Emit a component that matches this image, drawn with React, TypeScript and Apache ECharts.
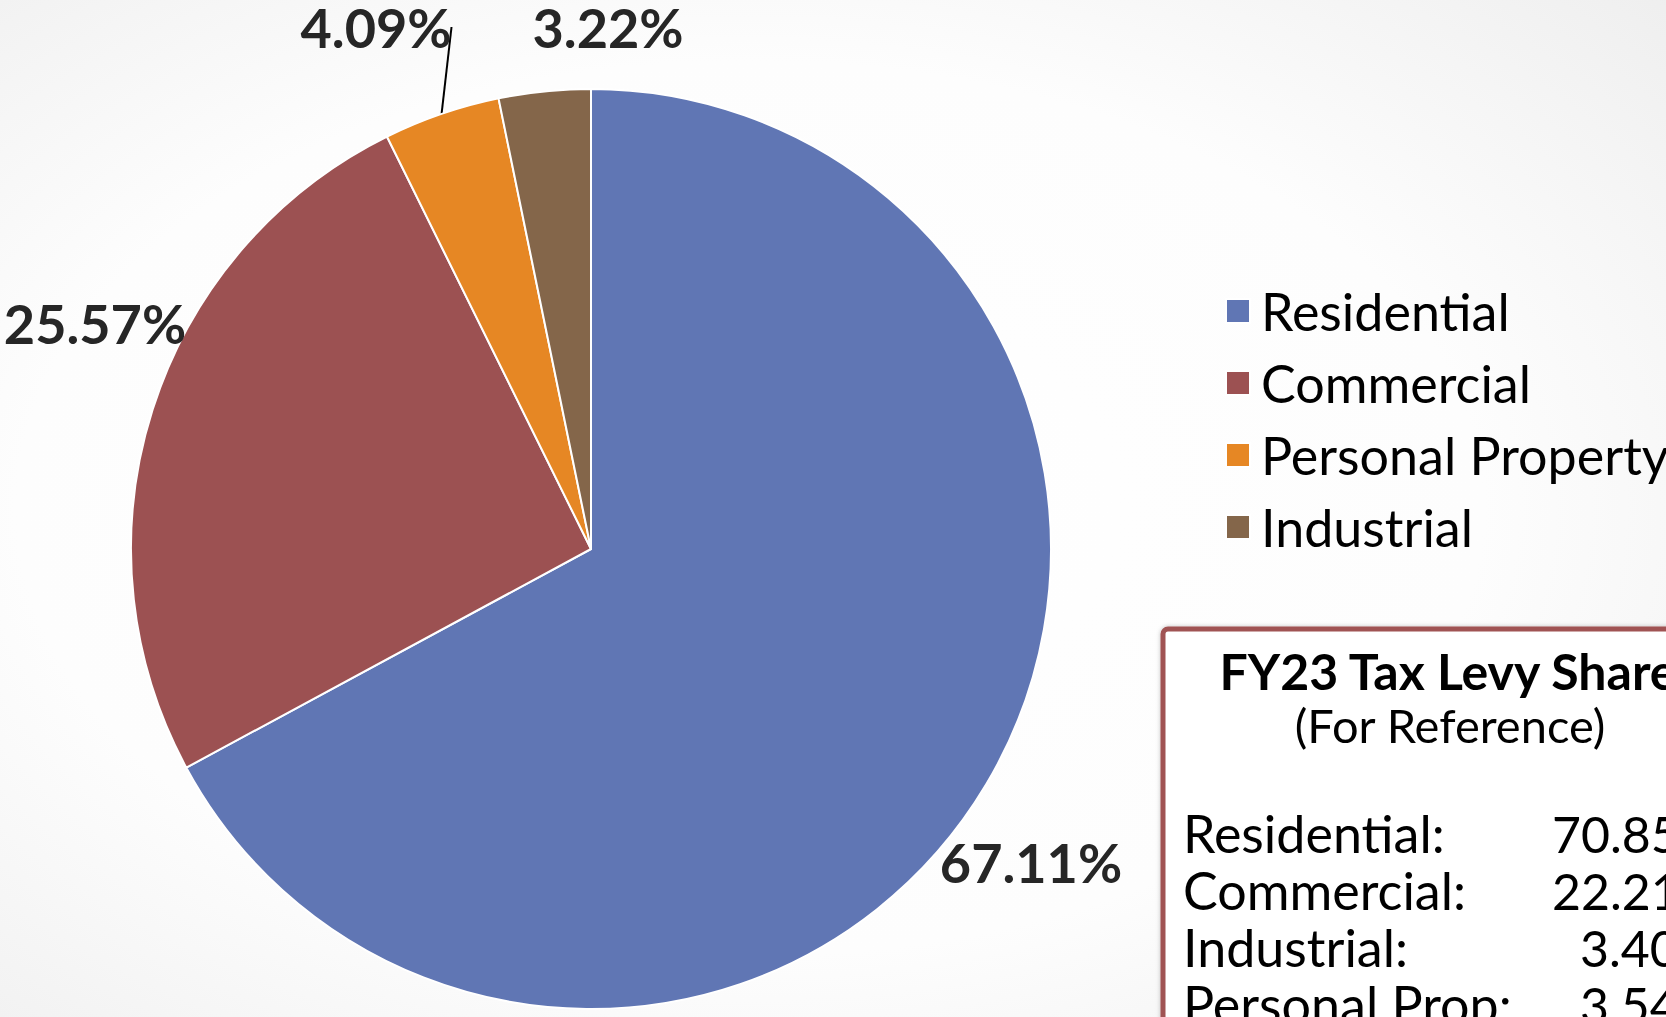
import React, { useEffect, useRef } from "react";
import * as echarts from "echarts";

const categories = ["Residential", "Commercial", "Personal Property", "Industrial"];
const shares = [67.11, 25.57, 4.09, 3.22];
const sliceColors = ["#6076B4", "#9C5152", "#E68724", "#84664A"];

const refLabels = ["Residential:", "Commercial:", "Industrial:", "Personal Prop:"];
const refValues = ["70.85%", "22.21%", "3.40%", "3.54%"];
const refTitle = "FY23 Tax Levy Shares";
const refSubtitle = "(For Reference)";

const labelAnchors: [number, number][] = [
  [1031, 862],
  [95, 323],
  [376, 27],
  [608, 27],
];
const refValueX = [1552, 1552, 1580, 1580];

const FONT = "Lato, 'DejaVu Sans', sans-serif";

export default function App() {
  const ref = useRef<HTMLDivElement>(null);
  useEffect(() => {
    if (!ref.current) return;
    const chart = echarts.init(ref.current, undefined, { renderer: "svg" });
    const rowY = [851, 908, 965, 1022];
    const graphics: any[] = [
      {
        type: "rect",
        shape: { x: 1163, y: 629, width: 620, height: 520, r: 5 },
        style: { fill: "#ffffff", stroke: "#A05252", lineWidth: 5, shadowBlur: 4, shadowColor: "rgba(0,0,0,0.25)" },
        z: 1,
      },
      {
        type: "text",
        x: 1459,
        y: 696,
        z: 2,
        style: { text: refTitle, fill: "#000", font: `bold 50px ${FONT}`, textAlign: "center", textVerticalAlign: "bottom" },
      },
      {
        type: "text",
        x: 1450,
        y: 748,
        z: 2,
        style: { text: refSubtitle, fill: "#000", font: `47px ${FONT}`, textAlign: "center", textVerticalAlign: "bottom" },
      },
    ];
    refLabels.forEach((t, i) => {
      graphics.push({
        type: "text",
        x: 1183,
        y: rowY[i] + 8,
        z: 2,
        style: { text: t, fill: "#000", font: `52px ${FONT}`, textAlign: "left", textVerticalAlign: "bottom" },
      });
      graphics.push({
        type: "text",
        x: refValueX[i],
        y: rowY[i] + 8,
        z: 2,
        style: { text: refValues[i], fill: "#000", font: `50px ${FONT}`, textAlign: "left", textVerticalAlign: "bottom" },
      });
    });

    chart.setOption({
      animation: false,
      backgroundColor: {
        type: "radial",
        x: 0.45,
        y: 0.5,
        r: 0.8,
        colorStops: [
          { offset: 0, color: "#ffffff" },
          { offset: 0.55, color: "#fdfdfd" },
          { offset: 1, color: "#ececec" },
        ],
      },
      color: sliceColors,
      legend: {
        orient: "vertical",
        left: 1220,
        top: 280,
        itemWidth: 24,
        itemHeight: 24,
        itemGap: 20,
        icon: "rect",
        data: categories,
        textStyle: { fontSize: 52, lineHeight: 50, color: "#000", fontFamily: FONT, padding: [0, 0, 0, 6] },
      },
      graphic: graphics,
      series: [
        {
          type: "pie",
          center: [591, 549],
          radius: [0, 460],
          startAngle: 90,
          clockwise: true,
          avoidLabelOverlap: false,
          itemStyle: { borderColor: "#ffffff", borderWidth: 2 },
          label: {
            show: true,
            position: "outside",
            formatter: (p: any) => p.value.toFixed(2) + "%",
            fontSize: 54,
            fontWeight: "bold",
            color: "#262626",
            fontFamily: FONT,
          },
          labelLine: { show: false, lineStyle: { color: "#000", width: 2 }, length: 20, length2: 0 },
          labelLayout: (params: any) => {
            const a = labelAnchors[params.dataIndex];
            return { x: a[0], y: a[1], align: "center", verticalAlign: "middle" };
          },
          emphasis: { disabled: true },
          data: categories.map((name, i) => ({
            name,
            value: shares[i],
            labelLine: { show: i === 2 },
          })),
        },
      ],
    });
    return () => chart.dispose();
  }, []);
  return (
    <div
      ref={ref}
      style={{ position: "fixed", left: 0, top: 0, width: 1666, height: 1017 }}
    />
  );
}
